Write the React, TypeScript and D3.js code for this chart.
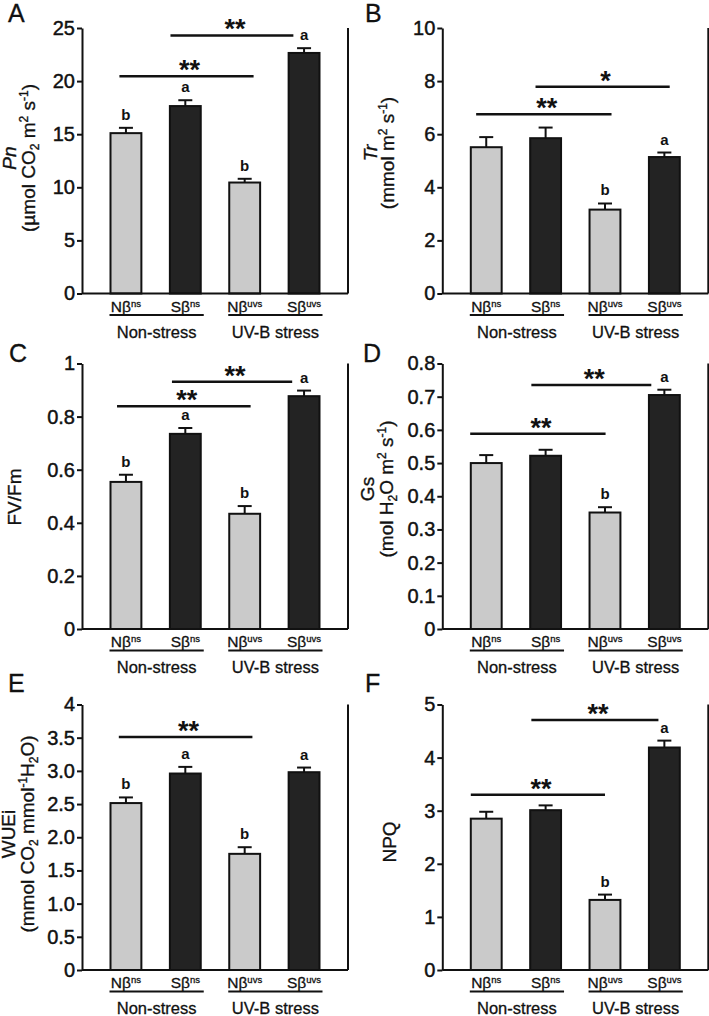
import React, { useEffect, useRef } from "react";
import * as d3 from "d3";

// treatments and groups
const categories = ["Nβ", "Sβ", "Nβ", "Sβ"];
const categorySups = ["ns", "ns", "uvs", "uvs"];
const conditions = ["Non-stress", "UV-B stress"];
const barFills = ["#cacaca", "#232323", "#cacaca", "#232323"];

// A - Pn
const pnMean = [15.1, 17.65, 10.45, 22.65];
const pnSe = [0.5, 0.55, 0.35, 0.45];
const pnLetters = ["b", "a", "b", "a"];
const pnTicks = [0, 5, 10, 15, 20, 25];
const pnTickLabels = ["0", "5", "10", "15", "20", "25"];
const pnSig = [
  { from: -0.11, to: 2.15, y: 20.45, label: "**" },
  { from: 0.75, to: 2.82, y: 24.3, label: "**" },
];

// B - Tr
const trMean = [5.51, 5.85, 3.16, 5.14];
const trSe = [0.38, 0.4, 0.23, 0.17];
const trLetters = ["", "", "b", "a"];
const trTicks = [0, 2, 4, 6, 8, 10];
const trTickLabels = ["0", "2", "4", "6", "8", "10"];
const trSig = [
  { from: -0.17, to: 2.11, y: 6.75, label: "**" },
  { from: 0.83, to: 3.09, y: 7.79, label: "*" },
];

// C - Fv/Fm
const fvMean = [0.554, 0.735, 0.434, 0.877];
const fvSe = [0.027, 0.022, 0.029, 0.021];
const fvLetters = ["b", "a", "b", "a"];
const fvTicks = [0, 0.2, 0.4, 0.6, 0.8, 1];
const fvTickLabels = ["0", "0.2", "0.4", "0.6", "0.8", "1"];
const fvSig = [
  { from: -0.15, to: 2.1, y: 0.839, label: "**" },
  { from: 0.775, to: 2.8, y: 0.931, label: "**" },
];

// D - Gs
const gsMean = [0.5, 0.522, 0.351, 0.705];
const gsSe = [0.024, 0.018, 0.016, 0.016];
const gsLetters = ["", "", "b", "a"];
const gsTicks = [0, 0.1, 0.2, 0.3, 0.4, 0.5, 0.6, 0.7, 0.8];
const gsTickLabels = ["0", "0.1", "0.2", "0.3", "0.4", "0.5", "0.6", "0.7", "0.8"];
const gsSig = [
  { from: -0.27, to: 2.01, y: 0.588, label: "**" },
  { from: 0.76, to: 2.78, y: 0.735, label: "**" },
];

// E - WUEi
const wueMean = [2.515, 2.96, 1.75, 2.98];
const wueSe = [0.085, 0.1, 0.1, 0.07];
const wueLetters = ["b", "a", "b", "a"];
const wueTicks = [0, 0.5, 1, 1.5, 2, 2.5, 3, 3.5, 4];
const wueTickLabels = ["0", "0.5", "1.0", "1.5", "2.0", "2.5", "3.0", "3.5", "4"];
const wueSig = [{ from: -0.12, to: 2.13, y: 3.51, label: "**" }];

// F - NPQ
const npqMean = [2.85, 3.01, 1.32, 4.19];
const npqSe = [0.13, 0.09, 0.1, 0.13];
const npqLetters = ["", "", "b", "a"];
const npqTicks = [0, 1, 2, 3, 4, 5];
const npqTickLabels = ["0", "1", "2", "3", "4", "5"];
const npqSig = [
  { from: -0.26, to: 2.0, y: 3.3, label: "**" },
  { from: 0.76, to: 2.9, y: 4.71, label: "**" },
];

const FONT = "'Liberation Sans', Arial, Helvetica, sans-serif";
const INK = "#111";
const W = 266;
const H = 265.5;
const TITLE_SIZE = 19;

type Piece = { t: string; s?: "sub" | "sup"; i?: boolean };

const panels = [
  {
    tag: "A", left: 82, top: 28, tagX: 8, tagY: 22,
    mean: pnMean, se: pnSe, letters: pnLetters, ticks: pnTicks, tickLabels: pnTickLabels, sig: pnSig,
    titleCy: 158,
    title: [
      { x: 16, pieces: [{ t: "Pn", i: true }] },
      { x: 35, pieces: [{ t: "(µmol CO" }, { t: "2", s: "sub" }, { t: " m" }, { t: "2", s: "sup" }, { t: " s" }, { t: "-1", s: "sup" }, { t: ")" }] },
    ],
  },
  {
    tag: "B", left: 442.3, top: 28, tagX: 365, tagY: 22,
    mean: trMean, se: trSe, letters: trLetters, ticks: trTicks, tickLabels: trTickLabels, sig: trSig,
    titleCy: 153,
    title: [
      { x: 377, pieces: [{ t: "Tr", i: true }] },
      { x: 394, pieces: [{ t: "(mmol m" }, { t: "2", s: "sup" }, { t: " s" }, { t: "-1", s: "sup" }, { t: ")" }] },
    ],
  },
  {
    tag: "C", left: 82, top: 363.5, tagX: 9, tagY: 362,
    mean: fvMean, se: fvSe, letters: fvLetters, ticks: fvTicks, tickLabels: fvTickLabels, sig: fvSig,
    titleCy: 497,
    title: [{ x: 21, pieces: [{ t: "FV/Fm" }] }],
  },
  {
    tag: "D", left: 442.3, top: 363.5, tagX: 363, tagY: 362,
    mean: gsMean, se: gsSe, letters: gsLetters, ticks: gsTicks, tickLabels: gsTickLabels, sig: gsSig,
    titleCy: 489,
    title: [
      { x: 374, pieces: [{ t: "Gs" }] },
      { x: 393, pieces: [{ t: "(mol H" }, { t: "2", s: "sub" }, { t: "O m" }, { t: "2", s: "sup" }, { t: " s" }, { t: "-1", s: "sup" }, { t: ")" }] },
    ],
  },
  {
    tag: "E", left: 82, top: 704.5, tagX: 8, tagY: 692,
    mean: wueMean, se: wueSe, letters: wueLetters, ticks: wueTicks, tickLabels: wueTickLabels, sig: wueSig,
    titleCy: 834,
    title: [
      { x: 15, pieces: [{ t: "WUEi" }] },
      { x: 34, pieces: [{ t: "(mmol CO" }, { t: "2", s: "sub" }, { t: " mmol" }, { t: "-1", s: "sup" }, { t: "H" }, { t: "2", s: "sub" }, { t: "O)" }] },
    ],
  },
  {
    tag: "F", left: 442.3, top: 704.5, tagX: 365, tagY: 692,
    mean: npqMean, se: npqSe, letters: npqLetters, ticks: npqTicks, tickLabels: npqTickLabels, sig: npqSig,
    titleCy: 842,
    title: [{ x: 396, pieces: [{ t: "NPQ" }] }],
  },
];

function Title({ lines, cy }: { lines: { x: number; pieces: Piece[] }[]; cy: number }) {
  return (
    <>
      {lines.map((ln, k) => {
        // running offset so sub/sup shifts are undone on the next piece
        let shift = 0;
        return (
          <text key={k} transform={`translate(${ln.x},${cy}) rotate(-90)`} textAnchor="middle"
            fontFamily={FONT} fontSize={TITLE_SIZE} fill={INK} stroke={INK} strokeWidth={0.35}>
            {ln.pieces.map((p, j) => {
              const target = p.s === "sup" ? -7 : p.s === "sub" ? 4 : 0;
              const dy = target - shift;
              shift = target;
              return (
                <tspan key={j} dy={dy} fontSize={p.s ? 12 : TITLE_SIZE} fontStyle={p.i ? "italic" : "normal"}>
                  {p.t}
                </tspan>
              );
            })}
          </text>
        );
      })}
    </>
  );
}

function Panel({ p }: { p: (typeof panels)[number] }) {
  const axisRef = useRef<SVGGElement>(null);
  const y = d3.scaleLinear().domain([0, p.ticks[p.ticks.length - 1]]).range([p.top + H, p.top]);
  const x = d3.scaleBand<number>().domain(d3.range(4)).range([p.left, p.left + W]).padding(0.48);
  const bw = x.bandwidth();
  const pos = d3.scaleLinear().domain([0, 3]).range([x(0)! + bw / 2, x(3)! + bw / 2]);
  const base = y(0);

  useEffect(() => {
    const g = d3.select(axisRef.current!);
    g.call(
      d3.axisLeft(y)
        .tickValues(p.ticks)
        .tickFormat((_, i) => p.tickLabels[i])
        .tickSize(5)
        .tickSizeOuter(0)
        .tickPadding(2)
    );
    g.attr("font-family", FONT).attr("font-size", 20);
    g.select(".domain").attr("stroke", INK).attr("stroke-width", 2);
    g.selectAll(".tick line").attr("stroke", INK).attr("stroke-width", 2);
    g.selectAll(".tick text").attr("fill", INK).attr("stroke", INK).attr("stroke-width", 0.45);
  }, []);

  return (
    <g>
      <text x={p.tagX} y={p.tagY} fontFamily={FONT} fontSize={25} fill={INK} stroke={INK} strokeWidth={0.3}>{p.tag}</text>
      <Title lines={p.title} cy={p.titleCy} />

      {p.mean.map((m, i) => {
        const cx = x(i)! + bw / 2;
        const top = y(m + p.se[i]);
        return (
          <g key={i}>
            <line x1={cx} x2={cx} y1={y(m)} y2={top} stroke={INK} strokeWidth={2} />
            <line x1={cx - 7} x2={cx + 7} y1={top} y2={top} stroke={INK} strokeWidth={2} />
            <rect x={x(i)} y={y(m)} width={bw} height={base - y(m)} fill={barFills[i]} stroke={INK} strokeWidth={2} />
            {p.letters[i] && (
              <text x={cx} y={top - 8} textAnchor="middle" fontFamily={FONT} fontSize={15} fontWeight="bold" fill={INK}>
                {p.letters[i]}
              </text>
            )}
            <text x={cx} y={base + 18} textAnchor="middle" fontFamily={FONT} fontSize={15.5} fill={INK}
              stroke={INK} strokeWidth={0.3}>
              {categories[i]}
              <tspan fontSize={9.5} dy={-5}>{categorySups[i]}</tspan>
            </text>
          </g>
        );
      })}

      {conditions.map((c, k) => {
        const x1 = x(k * 2)! - 1;
        const x2 = x(k * 2 + 1)! + bw + 3;
        return (
          <g key={c}>
            <line x1={x1} x2={x2} y1={base + 21.5} y2={base + 21.5} stroke={INK} strokeWidth={2.2} />
            <text x={(x1 + x2) / 2} y={base + 44} textAnchor="middle" fontFamily={FONT} fontSize={16.5} fill={INK}
              stroke={INK} strokeWidth={0.3}>{c}</text>
          </g>
        );
      })}

      {p.sig.map((s, k) => (
        <g key={k}>
          <line x1={pos(s.from)} x2={pos(s.to)} y1={y(s.y)} y2={y(s.y)} stroke={INK} strokeWidth={2.5} />
          <text x={(pos(s.from) + pos(s.to)) / 2 + 3} y={y(s.y) + 3} textAnchor="middle" fontFamily={FONT}
            fontSize={27} fontWeight="bold" fill={INK}>{s.label}</text>
        </g>
      ))}

      <line x1={p.left} x2={p.left + W} y1={base} y2={base} stroke={INK} strokeWidth={2} />
      <line x1={p.left + W} x2={p.left + W} y1={base} y2={p.top} stroke={INK} strokeWidth={2} />
      <g ref={axisRef} transform={`translate(${p.left},0)`} />
    </g>
  );
}

export default function App() {
  return (
    <svg width={709} height={1016} style={{ position: "absolute", left: 0, top: 0, background: "#fff" }}>
      {panels.map((p) => <Panel key={p.tag} p={p} />)}
    </svg>
  );
}
